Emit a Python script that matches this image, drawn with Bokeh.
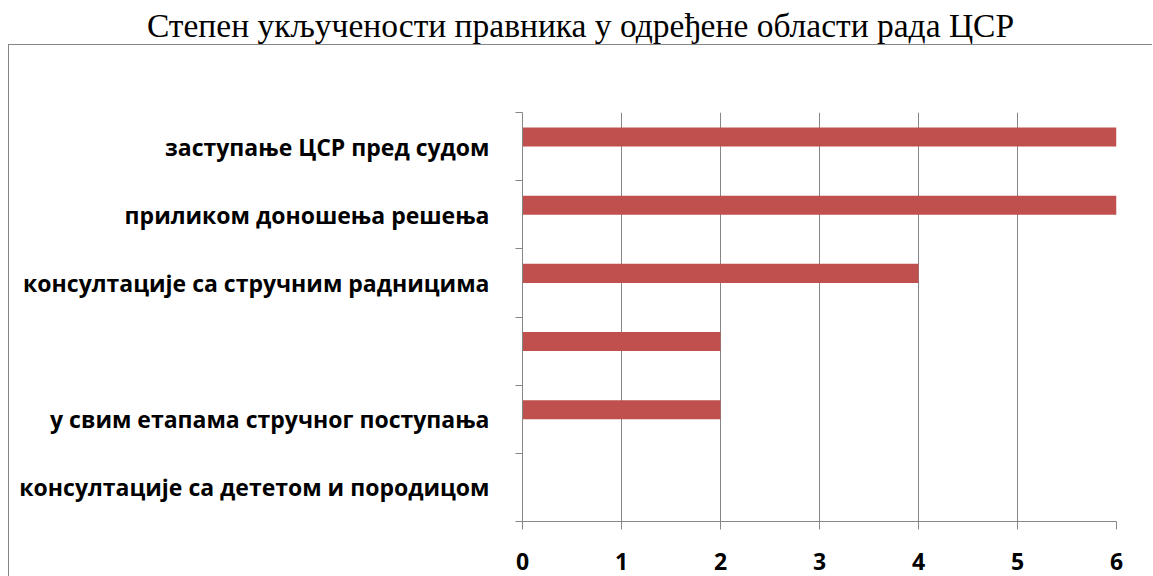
from bokeh.plotting import figure
from bokeh.models import Range1d, FixedTicker, Div, ColumnDataSource
from bokeh.layouts import column
from bokeh.embed import file_html
from bokeh.resources import INLINE

title_text = "Степен укључености правника у одређене области рада ЦСР"
categories = [
    "консултације са дететом и породицом",
    "у свим етапама стручног поступања",
    "",
    "консултације са стручним радницима",
    "приликом доношења решења",
    "заступање ЦСР пред судом",
]
values = [0, 2, 2, 4, 6, 6]
x_ticks = [0, 1, 2, 3, 4, 5, 6]

GRAY = "#868686"
BAR = "#C0504D"
n = len(categories)
centers = [i + 0.5 for i in range(n)]

src = ColumnDataSource(dict(y=[c + 0.14 for c in centers], v=values, cat=categories))

p = figure(width=1144, height=539,
           x_range=Range1d(0, max(x_ticks)), y_range=Range1d(0, n),
           output_backend="svg", toolbar_location=None,
           min_border_left=513, min_border_right=37,
           min_border_top=67, min_border_bottom=63)
p.outline_line_color = None
p.styles = {"margin-left": "8px",
            "border-left": f"1px solid {GRAY}", "border-top": f"1px solid {GRAY}"}

p.hbar(y="y", left=0, right="v", height=0.28, source=src,
       fill_color=BAR, line_color=None)

# x axis
p.xaxis.ticker = FixedTicker(ticks=x_ticks)
p.xaxis.axis_line_color = GRAY
p.xaxis.major_tick_line_color = GRAY
p.xaxis.major_tick_out = 8
p.xaxis.major_tick_in = 0
p.xaxis.minor_tick_line_color = None
p.xaxis.major_label_text_font = "Open Sans"
p.xaxis.major_label_text_font_style = "bold"
p.xaxis.major_label_text_font_size = "23px"
p.xaxis.major_label_text_color = "black"
p.xaxis.major_label_standoff = 23

# y axis: labels at band centres, ticks at band boundaries
p.yaxis.ticker = FixedTicker(ticks=centers, minor_ticks=list(range(n + 1)))
p.yaxis.major_label_overrides = {c: lab for c, lab in zip(centers, categories)}
p.yaxis.axis_line_color = GRAY
p.yaxis.major_tick_line_color = None
p.yaxis.major_tick_out = 0
p.yaxis.major_tick_in = 0
p.yaxis.minor_tick_line_color = GRAY
p.yaxis.minor_tick_out = 7
p.yaxis.minor_tick_in = 0
p.yaxis.major_label_text_font = "Open Sans"
p.yaxis.major_label_text_font_style = "bold"
p.yaxis.major_label_text_font_size = "23px"
p.yaxis.major_label_text_color = "black"
p.yaxis.major_label_standoff = 26

p.xgrid.ticker = FixedTicker(ticks=x_ticks)
p.xgrid.grid_line_color = GRAY
p.ygrid.visible = False

title = Div(text=title_text, width=1145, height=34,
            styles={"margin-left": "8px",
                    "font-family": "'Liberation Serif', serif", "font-size": "33.5px",
                    "text-align": "center", "line-height": "42px", "color": "black"})

layout = column(title, p, spacing=0)
open("out.html", "w").write(file_html(layout, INLINE))
